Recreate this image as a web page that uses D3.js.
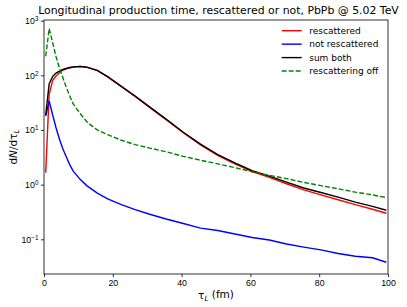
<!DOCTYPE html>
<html>
<head>
<meta charset="utf-8">
<script src="https://cdn.jsdelivr.net/npm/d3@7"></script>
<style>
  body { margin: 0; background: #fff; }
  svg { font-family: "DejaVu Sans", sans-serif; }
  .axis path, .axis line { stroke: #000; stroke-width: 0.8px; }
  .axis text { font-size: 8.8px; fill: #000; }
</style>
</head>
<body>
<svg id="chart"></svg>
<script>
// tau_L bin centres (fm)
var tau = [0.5, 1.5, 2.5, 3.5, 4.5, 5.5, 6.5, 7.5, 8.5, 10.5, 12.5, 15.5, 18.5, 22.5, 26.5,
  30.5, 35.5, 40.5, 45.5, 50.5, 55.5, 60.5, 65.5, 70.5, 75.5, 80.5, 85.5, 90.5, 95.5, 99.5];

var rescattered = [1.66, 45, 80, 97, 112, 125, 132, 138, 141, 145, 140, 122, 94, 62, 41,
  26.5, 15.4, 8.9, 5.35, 3.45, 2.4, 1.74, 1.36, 1.04, 0.80, 0.65, 0.53, 0.43, 0.355, 0.30];

var notRescattered = [18, 34, 19, 11, 6.8, 4.5, 3.2, 2.3, 1.77, 1.25, 0.95, 0.70, 0.55, 0.43, 0.35,
  0.29, 0.235, 0.195, 0.16, 0.145, 0.125, 0.108, 0.097, 0.082, 0.072, 0.064, 0.055, 0.049, 0.046, 0.038];

var sumBoth = [19, 70, 95, 110, 120, 128, 134, 139, 143, 146, 141, 123, 95, 63, 41.7,
  27, 15.8, 9.1, 5.5, 3.55, 2.5, 1.8, 1.43, 1.11, 0.87, 0.72, 0.59, 0.48, 0.40, 0.34];

var rescatteringOff = [224, 720, 400, 220, 135, 90, 60, 42, 30, 20, 14, 10, 8.2, 6.5, 5.4,
  4.7, 4.0, 3.3, 2.8, 2.4, 2.05, 1.72, 1.48, 1.29, 1.10, 0.96, 0.84, 0.73, 0.65, 0.58];

var xTicks = [0, 20, 40, 60, 80, 100];
var yTicks = [0.1, 1, 10, 100, 1000];

var series = [
  {label: "rescattered", values: rescattered, color: "#ff0000", dash: null},
  {label: "not rescattered", values: notRescattered, color: "#0000ff", dash: null},
  {label: "sum both", values: sumBoth, color: "#000000", dash: null},
  {label: "rescattering off", values: rescatteringOff, color: "#008000", dash: "4.9,2.1"}
];

var W = 407, H = 307;
var margin = {top: 20, right: 19, bottom: 33, left: 44},
  width = W - margin.left - margin.right,
  height = H - margin.top - margin.bottom;

var svg = d3.select("#chart").attr("width", W).attr("height", H);
var g = svg.append("g").attr("transform", "translate(" + margin.left + "," + margin.top + ")");

var x = d3.scaleLinear().domain([0, 100]).range([0, width]);
var y = d3.scaleLog().domain([Math.pow(10, -1.635), Math.pow(10, 3.013)]).range([height, 0]);

var xAxis = d3.axisBottom(x).tickValues(xTicks).tickSize(3.1).tickPadding(2.5);
var yAxis = d3.axisLeft(y).tickValues(yTicks).tickSize(3.1).tickPadding(2.5).tickFormat("");

g.append("g").attr("class", "x axis")
  .attr("transform", "translate(0," + height + ")")
  .call(xAxis)
  .select(".domain").remove();

var yas = g.append("g").attr("class", "y axis").call(yAxis);
yas.select(".domain").remove();
yas.selectAll(".tick").each(function(d) {
  var e = Math.round(Math.log10(d));
  var t = d3.select(this).append("text")
    .attr("x", -5.6).attr("dy", "0.32em")
    .style("text-anchor", "end");
  t.append("tspan").text("10");
  t.append("tspan").attr("dy", "-0.45em").style("font-size", "6.3px")
    .text(e < 0 ? "\u2212" + (-e) : String(e));
});

// frame
g.append("rect")
  .attr("width", width).attr("height", height)
  .style("fill", "none").style("stroke", "#000").style("stroke-width", 0.8);

var line = d3.line()
  .x(function(d, i) { return x(tau[i]); })
  .y(function(d) { return y(d); });

g.append("g")
  .selectAll("path.series")
  .data(series)
  .enter().append("path")
  .attr("class", "series")
  .attr("d", function(s) { return line(s.values); })
  .style("fill", "none")
  .style("stroke", function(s) { return s.color; })
  .style("stroke-width", 1.4)
  .style("stroke-dasharray", function(s) { return s.dash; });

// legend
var leg = g.append("g").attr("transform", "translate(" + (281.7 - margin.left) + "," + (30.7 - margin.top) + ")");
var items = leg.selectAll("g").data(series).enter().append("g")
  .attr("transform", function(d, i) { return "translate(0," + (i * 13.45) + ")"; });
items.append("line")
  .attr("x1", 0).attr("x2", 20)
  .style("stroke", function(s) { return s.color; })
  .style("stroke-width", 1.4)
  .style("stroke-dasharray", function(s) { return s.dash; });
items.append("text")
  .attr("x", 27.5).attr("dy", "0.35em")
  .style("font-size", "9px")
  .text(function(s) { return s.label; });

// title
svg.append("text")
  .attr("x", margin.left + width / 2 + 2.5).attr("y", 14)
  .style("text-anchor", "middle").style("font-size", "10.9px")
  .text("Longitudinal production time, rescattered or not, PbPb @ 5.02 TeV");

// x label
var xl = svg.append("text")
  .attr("x", margin.left + width / 2).attr("y", 299)
  .style("text-anchor", "middle").style("font-size", "10.5px");
xl.append("tspan").text("\u03C4");
xl.append("tspan").attr("dy", "0.3em").style("font-size", "7.3px").style("font-style", "italic").text("L");
xl.append("tspan").attr("dy", "-0.3em").text(" (fm)");

// y label
var yl = svg.append("text")
  .attr("transform", "translate(17," + (margin.top + height / 2) + ") rotate(-90)")
  .style("text-anchor", "middle").style("font-size", "10.5px");
yl.append("tspan").text("d");
yl.append("tspan").style("font-style", "italic").text("N");
yl.append("tspan").text("/d\u03C4");
yl.append("tspan").attr("dy", "0.3em").style("font-size", "7.3px").style("font-style", "italic").text("L");
</script>
</body>
</html>
